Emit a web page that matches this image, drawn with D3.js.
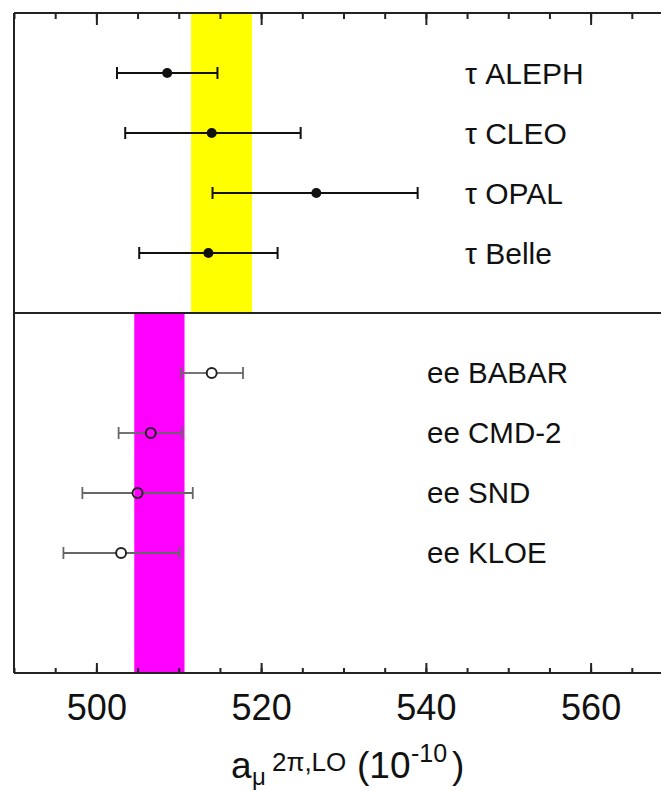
<!DOCTYPE html>
<html>
<head>
<meta charset="utf-8">
<script src="https://cdn.jsdelivr.net/npm/d3@7"></script>
<style>
  body { margin: 0; background: #fff; }
  svg { display: block; font-family: "Liberation Sans", Arial, sans-serif; }
</style>
</head>
<body>
<svg id="chart"></svg>
<script>
const width = 661, height = 791;

// tau based results (top panel)
const tauLabels = ['τ ALEPH', 'τ CLEO', 'τ OPAL', 'τ Belle'];
const tauCentral = [508.6, 514.0, 526.7, 513.6];
const tauLow = [502.5, 503.5, 514.1, 505.2];
const tauHigh = [514.7, 524.8, 539.0, 522.0];
const tauBand = [511.5, 518.9];

// e+e- based results (bottom panel)
const eeLabels = ['ee BABAR', 'ee CMD-2', 'ee SND', 'ee KLOE'];
const eeCentral = [514.0, 506.6, 505.0, 503.0];
const eeLow = [510.3, 502.7, 498.3, 496.0];
const eeHigh = [517.8, 510.4, 511.7, 510.1];
const eeBand = [504.6, 510.7];

const majorTicks = [500, 520, 540, 560];
const minorTicks = d3.range(490, 571, 5);

const xScale = d3.scaleLinear()
	.domain([490, 570])
	.range([14, 673]);

// rows: tau 0..3, divider at 4, ee 5..8
const yScale = d3.scaleLinear()
	.domain([-1, 10])
	.range([13, 673]);

const svg = d3.select('#chart')
	.attr('width', width)
	.attr('height', height);

// bands
svg.append('rect')
	.attr('x', xScale(tauBand[0]))
	.attr('width', xScale(tauBand[1]) - xScale(tauBand[0]))
	.attr('y', yScale(-1))
	.attr('height', yScale(4) - yScale(-1))
	.attr('fill', '#ffff00');

svg.append('rect')
	.attr('x', xScale(eeBand[0]))
	.attr('width', xScale(eeBand[1]) - xScale(eeBand[0]))
	.attr('y', yScale(4))
	.attr('height', yScale(10) - yScale(4))
	.attr('fill', '#ff00ff');

// axes: ticks point inward, no domain path
const addAxis = (axis, y) => {
	const g = svg.append('g')
		.attr('transform', `translate(0,${y})`)
		.call(axis);
	g.select('.domain').remove();
	g.selectAll('line').attr('stroke', '#222').attr('stroke-width', 2);
	return g;
}

addAxis(d3.axisTop(xScale).tickValues(minorTicks).tickSize(-6).tickFormat(''), yScale(-1));
addAxis(d3.axisTop(xScale).tickValues(majorTicks).tickSize(-12).tickFormat(''), yScale(-1));
addAxis(d3.axisBottom(xScale).tickValues(minorTicks).tickSize(-5).tickFormat(''), yScale(10));
const bottom = addAxis(d3.axisBottom(xScale).tickValues(majorTicks).tickSize(-10).tickPadding(21).tickFormat(d3.format('d')), yScale(10));
bottom.selectAll('text')
	.attr('font-size', 36)
	.attr('font-family', '"Liberation Sans", Arial, sans-serif')
	.attr('fill', '#111');

// frame
const frame = svg.append('g').attr('stroke', '#222').attr('stroke-width', 2);
frame.append('line').attr('x1', xScale(490)).attr('x2', xScale(490)).attr('y1', yScale(-1)).attr('y2', yScale(10));
[-1, 4, 10].forEach(r => {
	frame.append('line')
		.attr('x1', xScale(490)).attr('x2', xScale(570))
		.attr('y1', yScale(r)).attr('y2', yScale(r));
});

// tau points: black error bars, filled dots
const tau = tauLabels.map((l, i) => ({ label: l, c: tauCentral[i], lo: tauLow[i], hi: tauHigh[i], row: i }));
const tauG = svg.append('g').attr('stroke', '#111').attr('stroke-width', 2);
tauG.selectAll('.bar')
	.data(tau)
	.enter()
	.append('line')
	.attr('x1', d => xScale(d.lo))
	.attr('x2', d => xScale(d.hi))
	.attr('y1', d => yScale(d.row))
	.attr('y2', d => yScale(d.row));
['lo', 'hi'].forEach(k => {
	tauG.selectAll('.cap-' + k)
		.data(tau)
		.enter()
		.append('line')
		.attr('x1', d => xScale(d[k]))
		.attr('x2', d => xScale(d[k]))
		.attr('y1', d => yScale(d.row) - 6)
		.attr('y2', d => yScale(d.row) + 6);
});
svg.selectAll('.dot')
	.data(tau)
	.enter()
	.append('circle')
	.attr('cx', d => xScale(d.c))
	.attr('cy', d => yScale(d.row))
	.attr('r', 5)
	.attr('fill', '#111');

// ee points: grey error bars, open circles
const ee = eeLabels.map((l, i) => ({ label: l, c: eeCentral[i], lo: eeLow[i], hi: eeHigh[i], row: i + 5 }));
const eeG = svg.append('g').attr('stroke', '#666').attr('stroke-width', 1.8);
eeG.selectAll('.left')
	.data(ee)
	.enter()
	.append('line')
	.attr('x1', d => xScale(d.lo))
	.attr('x2', d => xScale(d.c) - 5)
	.attr('y1', d => yScale(d.row))
	.attr('y2', d => yScale(d.row));
eeG.selectAll('.right')
	.data(ee)
	.enter()
	.append('line')
	.attr('x1', d => xScale(d.c) + 5)
	.attr('x2', d => xScale(d.hi))
	.attr('y1', d => yScale(d.row))
	.attr('y2', d => yScale(d.row));
['lo', 'hi'].forEach(k => {
	eeG.selectAll('.cap-' + k)
		.data(ee)
		.enter()
		.append('line')
		.attr('x1', d => xScale(d[k]))
		.attr('x2', d => xScale(d[k]))
		.attr('y1', d => yScale(d.row) - 6)
		.attr('y2', d => yScale(d.row) + 6);
});
svg.selectAll('.open')
	.data(ee)
	.enter()
	.append('circle')
	.attr('cx', d => xScale(d.c))
	.attr('cy', d => yScale(d.row))
	.attr('r', 5)
	.attr('fill', 'none')
	.attr('stroke', '#222')
	.attr('stroke-width', 2);

// labels
svg.selectAll('.tau-label')
	.data(tau)
	.enter()
	.append('text')
	.attr('x', 465)
	.attr('y', d => yScale(d.row))
	.attr('dy', '0.35em')
	.attr('font-size', 30)
	.attr('fill', '#111')
	.text(d => d.label);

svg.selectAll('.ee-label')
	.data(ee)
	.enter()
	.append('text')
	.attr('x', 427)
	.attr('y', d => yScale(d.row))
	.attr('dy', '0.35em')
	.attr('font-size', 29.5)
	.attr('fill', '#111')
	.text(d => d.label);

// axis title: a_mu^{2pi,LO} (10^-10)
const title = svg.append('text').attr('fill', '#111').attr('font-size', 37);
title.append('tspan').attr('x', 231).attr('y', 778).text('a');
title.append('tspan').attr('x', 252).attr('y', 785).attr('font-size', 24).text('μ');
title.append('tspan').attr('x', 272).attr('y', 771).attr('font-size', 26).text('2π,LO');
title.append('tspan').attr('x', 357).attr('y', 778).text('(10');
title.append('tspan').attr('x', 411).attr('y', 762).attr('font-size', 25).text('-10');
title.append('tspan').attr('x', 452).attr('y', 778).text(')');
</script>
</body>
</html>
